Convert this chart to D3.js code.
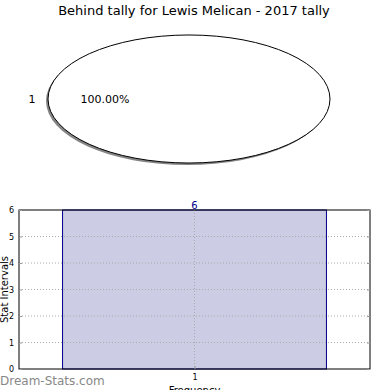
<!DOCTYPE html>
<html>
<head>
<meta charset="utf-8">
<script src="https://cdn.jsdelivr.net/npm/d3@7"></script>
<style>
  body { margin: 0; background: #fff; }
  text { font-family: "DejaVu Sans", sans-serif; }
</style>
</head>
<body>
<script>
const W = 390, H = 390;

// pie data
const pieLabels = ["1"];
const pieValues = [1];

// histogram data
const barCats = [1];
const barCounts = [6];
const yTicks = [0, 1, 2, 3, 4, 5, 6];

const svg = d3.select("body").append("svg")
  .attr("width", W).attr("height", H);

svg.append("text")
  .attr("x", 194).attr("y", 15)
  .attr("text-anchor", "middle")
  .style("font-size", "13px")
  .text("Behind tally for Lewis Melican - 2017 tally");

// ---- pie (drawn as circle, squashed into an ellipse) ----
const cx = 189, cy = 99, rx = 141, ry = 64;
const pie = d3.pie().sort(null).startAngle(-Math.PI / 2).endAngle(1.5 * Math.PI);
const arcs = pie(pieValues);
const arc = d3.arc().innerRadius(0).outerRadius(rx);
const total = d3.sum(pieValues);

const shadow = svg.append("g")
  .attr("transform", `translate(${cx - 2},${cy + 2}) scale(1,${ry / rx})`);
shadow.selectAll("path").data(arcs).enter().append("path")
  .attr("d", arc).attr("fill", "#666").attr("opacity", 0.8);

const pg = svg.append("g")
  .attr("transform", `translate(${cx},${cy}) scale(1,${ry / rx})`);
pg.selectAll("path").data(arcs).enter().append("path")
  .attr("d", arc)
  .attr("fill", "#fff")
  .attr("stroke", "#000")
  .attr("stroke-width", 1)
  .attr("vector-effect", "non-scaling-stroke");

svg.selectAll(".plab").data(arcs).enter().append("text")
  .attr("x", 32).attr("y", cy + 4)
  .attr("text-anchor", "middle")
  .style("font-size", "11px")
  .text((d, i) => pieLabels[i]);

svg.selectAll(".ppct").data(arcs).enter().append("text")
  .attr("x", 105).attr("y", cy + 4)
  .attr("text-anchor", "middle")
  .style("font-size", "11px")
  .text(d => (d.value / total * 100).toFixed(2) + "%");

// ---- bar chart ----
const pLeft = 19, pRight = 370, pTop = 210, pBottom = 369;
const barW = 0.8;
const x = d3.scaleLinear().domain([1 - 0.532, 1 + 0.532]).range([pLeft, pRight]);
const y = d3.scaleLinear().domain([0, 6]).range([pBottom, pTop]);

const g = svg.append("g");

g.selectAll(".bar").data(barCats).enter().append("rect")
  .attr("x", (d) => x(d - barW / 2))
  .attr("y", (d, i) => y(barCounts[i]))
  .attr("width", d => x(d + barW / 2) - x(d - barW / 2))
  .attr("height", (d, i) => pBottom - y(barCounts[i]))
  .attr("fill", "#ccccE4")
  .attr("stroke", "#00008b")
  .attr("stroke-width", 1);

// grid
g.selectAll(".gy").data(yTicks.slice(1, -1)).enter().append("line")
  .attr("x1", pLeft).attr("x2", pRight)
  .attr("y1", d => y(d)).attr("y2", d => y(d))
  .attr("stroke", "#aaa").attr("stroke-dasharray", "1,2");
g.selectAll(".gx").data(barCats).enter().append("line")
  .attr("x1", d => x(d)).attr("x2", d => x(d))
  .attr("y1", pTop).attr("y2", pBottom)
  .attr("stroke", "#aaa").attr("stroke-dasharray", "1,2");

// frame
g.append("rect")
  .attr("x", pLeft).attr("y", pTop)
  .attr("width", pRight - pLeft).attr("height", pBottom - pTop)
  .attr("fill", "none").attr("stroke", "#000").attr("stroke-width", 1);

// axes (ticks inside)
const yAxis = d3.axisLeft(y).tickValues(yTicks).tickSize(-3).tickPadding(5).tickFormat(d3.format("d"));
svg.append("g").attr("transform", `translate(${pLeft},0)`).call(yAxis)
  .call(a => a.select(".domain").remove())
  .call(a => a.selectAll("line").attr("stroke", "#999"))
  .call(a => a.selectAll("text").style("font-size", "8px").attr("font-family", "DejaVu Sans"));

const yAxisR = d3.axisRight(y).tickValues(yTicks).tickSize(-3).tickFormat("");
svg.append("g").attr("transform", `translate(${pRight},0)`).call(yAxisR)
  .call(a => a.select(".domain").remove())
  .call(a => a.selectAll("line").attr("stroke", "#999"));

const xAxis = d3.axisBottom(x).tickValues(barCats).tickSize(-3).tickPadding(5).tickFormat(d3.format("d"));
svg.append("g").attr("transform", `translate(0,${pBottom})`).call(xAxis)
  .call(a => a.select(".domain").remove())
  .call(a => a.selectAll("line").attr("stroke", "#999"))
  .call(a => a.selectAll("text").style("font-size", "8px").attr("font-family", "DejaVu Sans"));

// value label
svg.selectAll(".vl").data(barCats).enter().append("text")
  .attr("x", d => x(d)).attr("y", (d, i) => y(barCounts[i]) - 1)
  .attr("text-anchor", "middle")
  .attr("fill", "#00008b")
  .style("font-size", "10px")
  .text((d, i) => barCounts[i]);

svg.append("text")
  .attr("transform", `translate(8,${(pTop + pBottom) / 2}) rotate(-90)`)
  .attr("text-anchor", "middle")
  .style("font-size", "10px")
  .text("Stat Intervals");

svg.append("text")
  .attr("x", x(1)).attr("y", 394)
  .attr("text-anchor", "middle")
  .style("font-size", "10px")
  .text("Frequency");

svg.append("text")
  .attr("x", 0).attr("y", 385)
  .attr("fill", "#888")
  .style("font-size", "12px")
  .text("Dream-Stats.com");
</script>
</body>
</html>
